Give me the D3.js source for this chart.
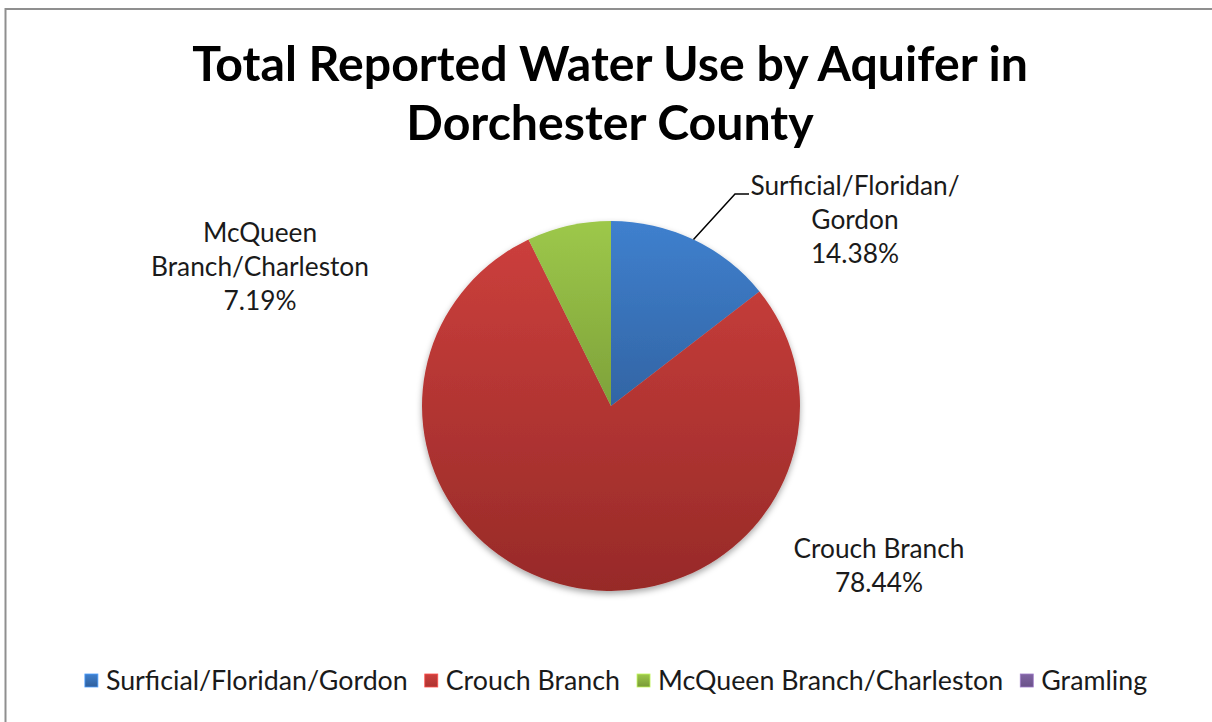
<!DOCTYPE html>
<html>
<head>
<meta charset="utf-8">
<script src="https://cdn.jsdelivr.net/npm/d3@7"></script>
<style>
  html, body { margin: 0; padding: 0; background: #ffffff; }
  svg { display: block; }
</style>
</head>
<body>
<svg id="chart" width="1212" height="722"></svg>
<script>
// Aquifer categories and their share of total reported water use (%)
const categories = ["Surficial/Floridan/Gordon", "Crouch Branch", "McQueen Branch/Charleston", "Gramling"];
const shares = [14.38, 78.44, 7.19, 0];
// Data label text lines (name part); the percentage is appended from shares
const labelNames = [["Surficial/Floridan/", "Gordon"], ["Crouch Branch"], ["McQueen", "Branch/Charleston"], null];
const titleLines = ["Total Reported Water Use by Aquifer in", "Dorchester County"];

// Slice fills: light top and darker bottom of a vertical gradient
const topColors = ["#3f80ce", "#ce403d", "#9dc84a", "#8064a2"];
const bottomColors = ["#25497a", "#972a28", "#5f7b2b", "#5c4678"];

const W = 1212, H = 722;
const FONT = "Lato, 'Open Sans', 'DejaVu Sans', sans-serif";
const svg = d3.select("#chart");
const defs = svg.append("defs");

// Helper: font size that makes a string span a given width
function fitSize(text, weight, targetW) {
  const t = svg.append("text").attr("font-family", FONT).attr("font-weight", weight)
    .attr("font-size", 100).text(text);
  const w = t.node().getComputedTextLength();
  t.remove();
  return 100 * targetW / w;
}

// Chart area frame
svg.append("rect")
  .attr("x", 5.5).attr("y", 9).attr("width", W + 20).attr("height", H + 20)
  .attr("fill", "#ffffff").attr("stroke", "#8f8f8f").attr("stroke-width", 2);

// Title
const titleSize = fitSize(titleLines[0], 700, 836);
svg.append("g").selectAll("text").data(titleLines).join("text")
  .attr("x", 610)
  .attr("y", (d, i) => 81 + i * 59)
  .attr("text-anchor", "middle")
  .attr("font-family", FONT).attr("font-weight", 700)
  .attr("font-size", titleSize)
  .attr("fill", "#000000")
  .text(d => d);

// Pie geometry
const cx = 611, cy = 406, r = 189, yScale = 185 / 189;
const data = categories.map((c, i) => ({ name: c, value: shares[i], i }));
const pie = d3.pie().sort(null).value(d => d.value);
const arcs = pie(data);
const arc = d3.arc().innerRadius(0).outerRadius(r);

// Vertical gradients spanning the whole pie height
data.forEach((d, i) => {
  const g = defs.append("linearGradient")
    .attr("id", "grad" + i)
    .attr("gradientUnits", "userSpaceOnUse")
    .attr("x1", 0).attr("y1", -r).attr("x2", 0).attr("y2", r);
  g.append("stop").attr("offset", "0%").attr("stop-color", topColors[i]);
  g.append("stop").attr("offset", "100%").attr("stop-color", bottomColors[i]);
});

// Soft shadow under the pie
const f = defs.append("filter").attr("id", "shadow")
  .attr("x", "-10%").attr("y", "-10%").attr("width", "120%").attr("height", "125%");
f.append("feDropShadow").attr("dx", 0).attr("dy", 3).attr("stdDeviation", 3)
  .attr("flood-color", "#000000").attr("flood-opacity", 0.35);

const pieG = svg.append("g")
  .attr("transform", `translate(${cx},${cy}) scale(1,${yScale})`)
  .attr("filter", "url(#shadow)");

pieG.selectAll("path").data(arcs.filter(a => a.data.value > 0)).join("path")
  .attr("d", arc)
  .attr("fill", d => `url(#grad${d.data.i})`);

// Data labels
const labelSize = fitSize("Branch/Charleston", 400, 218);
const lineH = 34;
// Label block anchors (x center, first baseline), relative to the pie center
const labelOffsets = [[244, -211], [268, 152], [-351, -164], null];
const fmt = d3.format(".2f");

const labelG = svg.append("g");
arcs.forEach(a => {
  const i = a.data.i;
  if (!labelNames[i] || a.data.value <= 0) return;
  const lines = labelNames[i].concat([fmt(a.data.value) + "%"]);
  const lx = cx + labelOffsets[i][0], ly = cy + labelOffsets[i][1];
  labelG.append("text")
    .attr("text-anchor", "middle")
    .attr("font-family", FONT).attr("font-size", labelSize)
    .attr("fill", "#1a1a1a")
    .selectAll("tspan").data(lines).join("tspan")
    .attr("x", lx).attr("y", (d, k) => ly + k * lineH)
    .text(d => d);

  // Leader line for the label above the first slice
  if (i === 0) {
    const mid = (a.startAngle + a.endAngle) / 2;
    const px = cx + r * Math.sin(mid), py = cy - r * Math.cos(mid) * yScale;
    labelG.append("polyline")
      .attr("points", [[px, py], [lx - 120, ly - 1], [lx - 106, ly - 1]].map(p => p.join(",")).join(" "))
      .attr("fill", "none").attr("stroke", "#000000").attr("stroke-width", 1.5);
  }
});

// Legend swatch gradients
data.forEach((d, i) => {
  const g = defs.append("linearGradient")
    .attr("id", "lgrad" + i).attr("x1", 0).attr("y1", 0).attr("x2", 0).attr("y2", 1);
  g.append("stop").attr("offset", "0%").attr("stop-color", topColors[i]);
  g.append("stop").attr("offset", "100%").attr("stop-color", d3.interpolateRgb(topColors[i], bottomColors[i])(0.6));
});

// Legend
const legendSize = fitSize(categories[0], 400, 302);
const sq = 13, sqGap = 8, itemGap = 17, legendBase = 690;
const legendG = svg.append("g");
const items = legendG.selectAll("g").data(data).join("g");
items.append("rect")
  .attr("width", sq).attr("height", sq)
  .attr("y", legendBase - 16)
  .attr("fill", d => `url(#lgrad${d.i})`)
  .attr("stroke", d => d3.color(topColors[d.i]).brighter(0.6))
  .attr("stroke-width", 0.8);
items.append("text")
  .attr("x", sq + sqGap).attr("y", legendBase)
  .attr("font-family", FONT).attr("font-size", legendSize)
  .attr("fill", "#1a1a1a")
  .text(d => d.name);

let xs = [], x = 0;
items.each(function () {
  xs.push(x);
  x += sq + sqGap + d3.select(this).select("text").node().getComputedTextLength() + itemGap;
});
const totalW = x - itemGap;
const startX = 616 - totalW / 2;
items.attr("transform", (d, i) => `translate(${startX + xs[i]},0)`);
</script>
</body>
</html>
